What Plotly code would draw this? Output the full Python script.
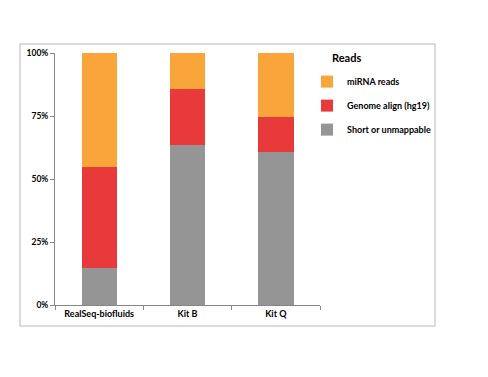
import plotly.graph_objects as go

categories = ["RealSeq-biofluids", "Kit B", "Kit Q"]
short_unmappable = [14.8, 63.6, 60.6]
genome_align = [39.8, 22.2, 13.9]
mirna_reads = [45.4, 14.2, 25.5]
y_ticks = [0, 25, 50, 75, 100]
y_tick_labels = ["0%", "25%", "50%", "75%", "100%"]

font_family = "Lato, Open Sans, sans-serif"

fig = go.Figure()
series = [
    ("Short or unmappable", short_unmappable, "#959595", 3),
    ("Genome align (hg19)", genome_align, "#E83A3A", 2),
    ("miRNA reads", mirna_reads, "#F9A53A", 1),
]
for i, (name, vals, color, rank) in enumerate(series):
    fig.add_trace(go.Bar(
        x=categories, y=vals, name=name, marker_color=color,
        marker_line_width=0, legendgroup=f"g{i}", legendrank=rank,
    ))

fig.update_layout(
    barmode="stack",
    bargap=0.6,
    width=488, height=377,
    margin=dict(l=47, r=176, t=45, b=80),
    paper_bgcolor="white", plot_bgcolor="white",
    font=dict(family=font_family, size=9, color="#000000"),
    showlegend=True,
    legend=dict(
        traceorder="grouped",
        tracegroupgap=5,
        x=0.951, xanchor="left", y=0.944, yanchor="top",
        font=dict(size=9, weight="bold"),
        bgcolor="rgba(0,0,0,0)",
    ),
    annotations=[dict(
        text="<b>Reads</b>", xref="paper", yref="paper",
        x=1.038, y=0.984, xanchor="left", yanchor="middle",
        showarrow=False, font=dict(size=11),
    )],
    xaxis=dict(
        showline=True, linecolor="#868686", linewidth=1,
        ticks="outside", tickson="boundaries", ticklen=4, tickcolor="#868686",
        tickfont=dict(size=9, weight="bold"),
        showgrid=False,
    ),
    yaxis=dict(
        range=[0, 100], tickvals=y_ticks, ticktext=y_tick_labels,
        showline=True, linecolor="#868686", linewidth=1,
        ticks="outside", ticklen=4, tickcolor="#868686",
        tickfont=dict(size=8.5, weight="bold"),
        showgrid=False, zeroline=False,
    ),
    shapes=[dict(
        type="rect", xref="paper", yref="paper",
        x0=-0.132, x1=1.434, y0=-0.083, y1=1.036,
        line=dict(color="#D0D0D0", width=1.5), layer="below",
    )],
)

fig.write_html("out.html")
